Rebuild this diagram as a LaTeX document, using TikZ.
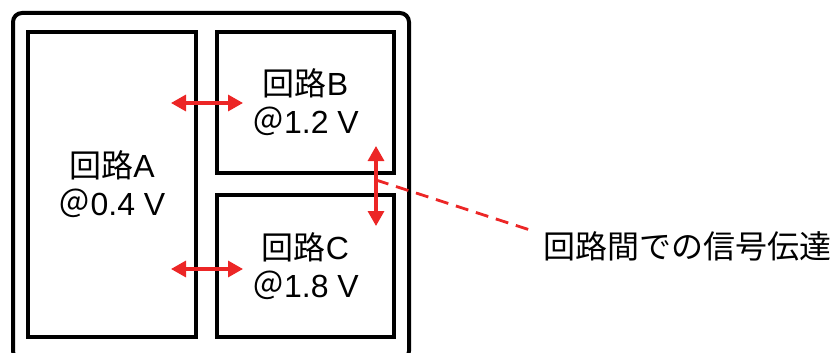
\documentclass[tikz,border=0pt]{standalone}
\usepackage{fontspec}
\setmainfont{Liberation Sans}
\newfontfamily\cjk{Noto Sans CJK JP}
\usetikzlibrary{arrows.meta}
\definecolor{sigred}{RGB}{236,38,38}
\tikzset{
  x=1pt, y=-1pt,
  outerbox/.style={draw=black, line width=4pt, rounded corners=9pt},
  block/.style={draw=black, line width=3.2pt, inner sep=0pt, align=center,
    font=\fontsize{32}{38}\selectfont},
  sigarrow/.style={draw=sigred, line width=3.2pt,
    >={Triangle[length=15pt,width=16pt]}, <->},
  leader/.style={draw=sigred, line width=2.8pt, dash pattern=on 13pt off 8pt},
  caption/.style={font=\fontsize{32}{38}\selectfont, inner sep=0pt, anchor=west}
}
\begin{document}
\begin{tikzpicture}
\useasboundingbox (0,0) rectangle (840,353);
\clip (0,0) rectangle (840,353);
% chip outline (runs past the lower edge)
\draw[outerbox] (13,13) rectangle (409,360);
% circuit blocks
\node[block, minimum width=168pt, minimum height=305pt] (A) at (112,184.5)
  {{\cjk 回路}A\\{\cjk ＠}0.4 V};
\node[block, minimum width=177pt, minimum height=141pt] (B) at (305.5,102.5)
  {{\cjk 回路}B\\{\cjk ＠}1.2 V};
\node[block, minimum width=177pt, minimum height=142pt] (C) at (305.5,266)
  {{\cjk 回路}C\\{\cjk ＠}1.8 V};
% signal paths between blocks
\coordinate (ab1) at (171,103);
\coordinate (ab2) at (243,103);
\coordinate (ac1) at (171,269);
\coordinate (ac2) at (243,269);
\coordinate (bc1) at (376,146);
\coordinate (bc2) at (376,226);
\draw[sigarrow] (ab1) -- (ab2);
\draw[sigarrow] (ac1) -- (ac2);
\draw[sigarrow] (bc1) -- (bc2);
% callout
\coordinate (lead) at (376,180);
\coordinate (leadend) at (530,230);
\node[caption] (cap) at (543,246) {\cjk 回路間での信号伝達};
\draw[leader] (lead) -- (leadend);
\end{tikzpicture}
\end{document}
